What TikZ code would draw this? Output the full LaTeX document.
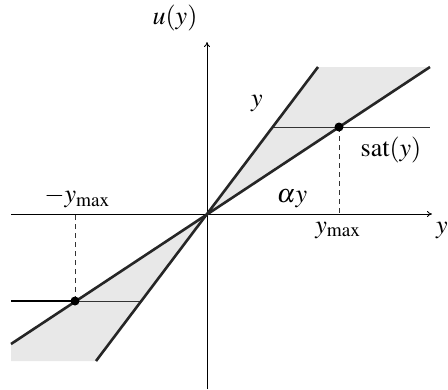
\documentclass[tikz,border=0pt]{standalone}
\usepackage{mathptmx}
\usetikzlibrary{arrows.meta}
\begin{document}
\begin{tikzpicture}[x=1pt,y=-1pt,
  lbl/.style={font=\fontsize{26}{30}\selectfont, inner sep=0pt},
  thickline/.style={line width=2.6pt, draw=black!85},
  thinline/.style={line width=0.8pt, draw=black!80},
  axis/.style={line width=0.8pt, -{To[length=5pt,width=6pt]}},
  shade/.style={fill=black!9, draw=none}]
\useasboundingbox (0,0) rectangle (448,389);
\coordinate (O) at (207,214);
\coordinate (steepTop) at (318,67);
\coordinate (shallowTop) at (430,67);
\coordinate (steepBot) at (96,361);
\coordinate (shallowBot) at (11,344);
\coordinate (cornerBot) at (11,361);
\coordinate (satR) at (339,127);
\coordinate (satL) at (75,301);
% shading
\fill[shade] (O) -- (steepTop) -- (shallowTop) -- cycle;
\fill[shade] (O) -- (shallowBot) -- (cornerBot) -- (steepBot) -- cycle;
% axes
\coordinate (xl) at (11,214);
\coordinate (xr) at (432,214);
\coordinate (yb) at (207,389);
\coordinate (yt) at (207,42);
\draw[axis] (xl) -- (xr);
\draw[axis] (yb) -- (yt);
% saturation horizontal lines
\coordinate (hR1) at (273,127);
\coordinate (hR2) at (430,127);
\coordinate (hL1) at (11,301);
\coordinate (hL2) at (140,301);
\draw[thinline] (hR1) -- (hR2);
\draw[thinline] (satL) -- (hL2);
\draw[line width=1.8pt] (hL1) -- (satL);
% dashed
\coordinate (dR) at (339,214);
\coordinate (dL) at (75,214);
\draw[thinline, dashed, dash pattern=on 5pt off 4pt] (satR) -- (dR);
\draw[thinline, dashed, dash pattern=on 5pt off 4pt] (satL) -- (dL);
% thick lines
\draw[thickline] (steepBot) -- (steepTop);
\draw[thickline] (shallowBot) -- (shallowTop);
% dots
\fill (satR) circle (4.5pt);
\fill (satL) circle (4.5pt);
% labels
\node[lbl] (uy) at (175,18) {$u(y)$};
\node[lbl] (ylab) at (257,104) {$y$};
\node[lbl] (sat) at (391,150) {$\mathrm{sat}(y)$};
\node[lbl] (ay) at (292,199) {$\alpha y$};
\node[lbl] (ymax) at (338,230) {$y_{\mathrm{max}}$};
\node[lbl] (mymax) at (77,198) {$-y_{\mathrm{max}}$};
\node[lbl, anchor=west] (yaxis) at (436,230) {$y$};
\end{tikzpicture}
\end{document}
